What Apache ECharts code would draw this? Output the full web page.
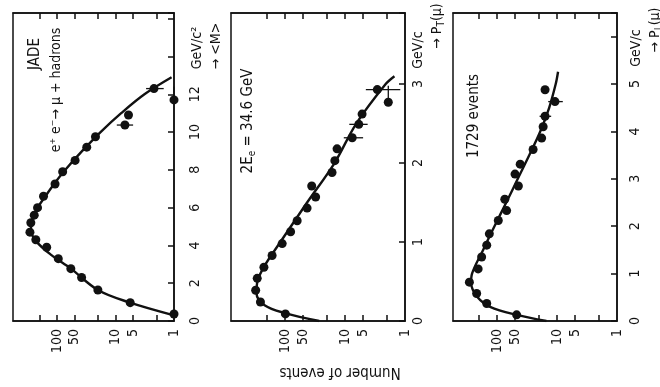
<!DOCTYPE html>
<html>
<head>
<meta charset="utf-8">
<script src="https://cdn.jsdelivr.net/npm/echarts@6/dist/echarts.min.js"></script>
<style>
html,body{margin:0;padding:0;background:#fff;}
#chart{width:660px;height:387px;}
</style>
</head>
<body>
<div id="chart"></div>
<script>
// Panel 1: mean mass <M> (GeV/c^2) vs number of events
const massM = [0.37, 0.97, 1.64, 2.3, 2.77, 3.3, 3.9, 4.3, 4.7, 5.2, 5.6, 6.0, 6.6, 7.25, 7.9, 8.5, 9.2, 9.75, 10.37, 10.9, 11.7, 12.3];
const massN = [1.0, 5.6, 20, 38, 58, 95, 150, 230, 290, 280, 245, 215, 170, 108, 80, 49, 31, 22, 6.9, 6.0, 1.0, 2.2];
const massFitM = [0.3, 1.0, 1.64, 2.77, 3.5, 4.2, 4.8, 5.4, 6.0, 6.6, 7.25, 8.0, 9.0, 10.0, 11.0, 12.0, 12.9];
const massFitN = [1.0, 6.0, 20, 58, 126, 224, 280, 263, 214, 158, 112, 72, 37, 18, 8, 3.2, 1.1];

// Panel 2: transverse momentum P_T(mu) (GeV/c) vs number of events
const ptP = [0.09, 0.24, 0.39, 0.54, 0.68, 0.83, 0.98, 1.13, 1.27, 1.43, 1.57, 1.71, 1.88, 2.03, 2.18, 2.32, 2.49, 2.62, 2.77, 2.93];
const ptN = [99, 258, 310, 292, 226, 165, 112, 81, 63, 43, 31, 36, 16.5, 14.8, 13.6, 7.6, 5.9, 5.2, 1.9, 2.9];
const ptFitP = [0.0, 0.1, 0.2, 0.35, 0.5, 0.7, 1.0, 1.5, 2.0, 2.5, 3.0, 3.1];
const ptFitN = [27, 100, 220, 300, 290, 220, 120, 43, 15, 6.5, 2.1, 1.5];

// Panel 3: longitudinal momentum P_L(mu) (GeV/c) vs number of events
const plP = [0.13, 0.37, 0.58, 0.82, 1.1, 1.35, 1.6, 1.84, 2.12, 2.33, 2.57, 2.85, 3.1, 3.31, 3.62, 3.86, 4.1, 4.32, 4.63, 4.88];
const plN = [47, 148, 218, 288, 206, 180, 148, 134, 95, 69, 74, 44, 50, 41, 25, 18, 17, 15.8, 10.8, 15.8];
const plFitP = [0.0, 0.13, 0.3, 0.5, 0.8, 1.0, 1.5, 2.0, 2.5, 3.0, 3.5, 4.0, 4.5, 5.0, 5.26];
const plFitN = [15, 47, 130, 210, 270, 260, 170, 110, 70, 45, 29, 19, 13.5, 10.5, 9.6];

// Error bars: [events low, events high, momentum] and [events, momentum low, momentum high]
const massErrN = [[5.0, 9.5, 10.37], [1.5, 3.0, 12.3]];
const massErrP = [[1.0, 11.7, 12.4]];
const ptErrN = [[1.2, 4.5, 2.93], [5.0, 10.5, 2.32], [4.2, 8.5, 2.49]];
const ptErrP = [[1.9, 2.77, 2.98]];
const plErrN = [[8.0, 14.0, 4.63], [12.5, 19.5, 4.32]];
const plErrP = [];

// Tick and label values of the event-count axis
const countTicks = [2, 5, 10, 20, 50, 100, 200];
const countLabels = [1, 5, 10, 50, 100];

const FONT = '"Liberation Sans Narrow", "DejaVu Sans Condensed", "Roboto", sans-serif';
const INK = '#111';

const panels = [
  { grid: { left: 13, top: 13, width: 161, height: 308 }, nMax: 565, pMax: 16.3, pStep: 2, pLabelMax: 12, labelMargin: 14,
    x: massM, n: massN, fx: massFitM, fn: massFitN, errN: massErrN, errP: massErrP },
  { grid: { left: 231, top: 13, width: 174, height: 308 }, nMax: 800, pMax: 3.9, pStep: 1, pLabelMax: 3, labelMargin: 6,
    x: ptP, n: ptN, fx: ptFitP, fn: ptFitN, errN: ptErrN, errP: ptErrP },
  { grid: { left: 453, top: 13, width: 164, height: 308 }, nMax: 540, pMax: 6.5, pStep: 1, pLabelMax: 5, labelMargin: 11,
    x: plP, n: plN, fx: plFitP, fn: plFitN, errN: plErrN, errP: plErrP }
];

const grid = [], xAxis = [], yAxis = [], series = [];
const edge = { show: true, lineStyle: { color: INK, width: 1.5 } };
const tickStyle = { color: INK, width: 1.5 };

panels.forEach((p, i) => {
  grid.push(Object.assign({ show: true, borderColor: INK, borderWidth: 1.5, backgroundColor: 'transparent' }, p.grid));
  const logBase = {
    type: 'log', logBase: 10, min: 1, max: p.nMax, inverse: true, gridIndex: i,
    axisLine: edge, splitLine: { show: false }, minorTick: { show: false },
    axisTick: { show: true, inside: true, length: 6, customValues: countTicks, lineStyle: tickStyle }
  };
  // bottom edge carries the labels, top edge only ticks
  xAxis.push(Object.assign({}, logBase, {
    position: 'bottom',
    axisLabel: { show: true, customValues: countLabels, rotate: 90, margin: 8, color: INK, fontFamily: FONT, fontSize: 14 }
  }));
  xAxis.push(Object.assign({}, logBase, { position: 'top', axisLabel: { show: false } }));
  yAxis.push({
    type: 'value', min: 0, max: p.pMax, interval: p.pStep, gridIndex: i, position: 'right',
    axisLine: edge, splitLine: { show: false },
    axisTick: { show: true, inside: true, length: 6, lineStyle: tickStyle },
    axisLabel: {
      rotate: 90, margin: p.labelMargin, color: INK, fontFamily: FONT, fontSize: 14,
      formatter: v => (v <= p.pLabelMax + 1e-9 ? String(v) : '')
    }
  });
  const xi = i * 2, yi = i;
  // fitted curve
  series.push({
    type: 'line', xAxisIndex: xi, yAxisIndex: yi, smooth: 0.35, symbol: 'none',
    lineStyle: { color: INK, width: 2.4 }, data: p.fn.map((n, k) => [n, p.fx[k]]), z: 2
  });
  // measured points
  series.push({
    type: 'scatter', xAxisIndex: xi, yAxisIndex: yi, symbol: 'circle', symbolSize: 9, clip: false,
    itemStyle: { color: INK, opacity: 1 }, data: p.n.map((n, k) => [n, p.x[k]]), z: 3
  });
  // error bars
  series.push({
    type: 'custom', xAxisIndex: xi, yAxisIndex: yi, clip: false, z: 3,
    data: p.errN.map(e => [e[0], e[1], e[2], 0]).concat(p.errP.map(e => [e[0], e[1], e[2], 1])),
    renderItem: (params, api) => {
      let a, b;
      if (api.value(3) === 0) {
        a = api.coord([api.value(0), api.value(2)]);
        b = api.coord([api.value(1), api.value(2)]);
      } else {
        a = api.coord([api.value(0), api.value(1)]);
        b = api.coord([api.value(0), api.value(2)]);
      }
      return { type: 'line', shape: { x1: a[0], y1: a[1], x2: b[0], y2: b[1] }, style: { stroke: INK, lineWidth: 1.3 } };
    }
  });
});

function vText(text, x, y, size, extra) {
  return {
    type: 'text', x: x, y: y, rotation: Math.PI / 2,
    style: Object.assign({ text: text, fill: INK, font: size + 'px ' + FONT, align: 'center', verticalAlign: 'middle' }, extra || {})
  };
}
const sub = { s: { fontSize: 10, fontFamily: FONT, fill: INK, padding: [8, 0, 0, 0] } };

const graphic = [
  vText('JADE', 35, 54, 15),
  vText('e\u207A e\u207B\u2192 \u03BC + hadrons', 56, 90, 14),
  vText('2E{s|e} = 34.6 GeV', 248, 121, 15, { rich: sub }),
  vText('1729 events', 474, 116, 15),
  vText('GeV/c\u00B2', 197, 48, 14),
  vText('\u2192 <M>', 216, 46, 14),
  vText('GeV/c', 418, 50, 14),
  vText('\u2192 P{s|T}(\u03BC)', 437, 26, 14, { rich: sub }),
  vText('GeV/c', 636, 48, 14),
  vText('\u2192 P{s|L}(\u03BC)', 655, 30, 14, { rich: sub }),
  { type: 'text', x: 340, y: 372, rotation: Math.PI,
    style: { text: 'Number of events', fill: INK, font: '15px ' + FONT, align: 'center', verticalAlign: 'middle' } }
];

const chart = echarts.init(document.getElementById('chart'), null, { renderer: 'canvas' });
chart.setOption({
  animation: false,
  backgroundColor: '#fff',
  textStyle: { fontFamily: FONT },
  grid: grid, xAxis: xAxis, yAxis: yAxis, series: series, graphic: graphic
});
</script>
</body>
</html>
